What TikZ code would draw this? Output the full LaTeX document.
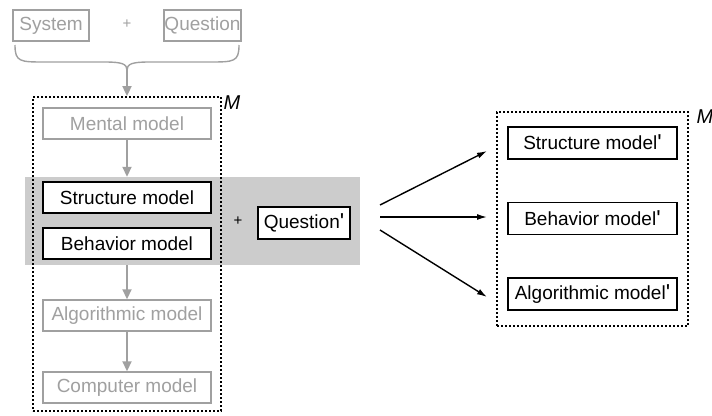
\documentclass[tikz,border=0pt]{standalone}
\usepackage{fontspec}
\setmainfont{Liberation Sans}[Ligatures=TeXOff]
\usetikzlibrary{positioning,arrows.meta}
\definecolor{faded}{RGB}{160,160,160}
\definecolor{bandgray}{RGB}{204,204,204}
\newcommand{\prm}{\raisebox{-1pt}{\fontsize{23}{23}\selectfont\char"0027}}

\begin{document}
\begin{tikzpicture}[x=1pt,y=-1pt,font=\fontsize{19}{21}\selectfont,
  model/.style={draw,line width=1.4pt,fill=white,minimum width=168pt,minimum height=31pt,inner sep=0pt},
  faint/.style={model,draw=faded,text=faded},
  frame/.style={draw,line width=1.8pt,dash pattern=on 2pt off 2pt,minimum width=188pt,inner sep=0pt},
  garr/.style={-{Triangle[length=10pt,width=9pt]},faded,line width=1.8pt},
  barr/.style={-{Latex[length=10pt,width=6pt]},line width=1.4pt}]
  \useasboundingbox (0,0) rectangle (712,415);
  % shaded part that is reused
  \node[fill=bandgray,minimum width=335pt,minimum height=88pt,inner sep=0pt](band) at (192.5,221){};
  % inputs on top
  \node[faint,minimum width=76pt](sys) at (51,25.5){System};
  \node[text=faded,font=\fontsize{15}{17}\selectfont](plus1) at (127,24){+};
  \node[faint,minimum width=77pt](qst) at (202.5,25.5){Question};
  \draw[faded,line width=1.4pt] (15,45) .. controls (15,62) and (20,62) .. (45,62) -- (105,62)
    .. controls (122,62) and (127,64) .. (127,70) .. controls (127,64) and (132,62) .. (149,62)
    -- (209,62) .. controls (234,62) and (239,62) .. (239,45);
  \coordinate (tip) at (127,70);
  % model M
  \node[frame,minimum height=314pt](mbox) at (127,254){};
  \node[font=\fontsize{20}{22}\selectfont\itshape](m1) at (232,103){M};
  \node[faint](mental) at (127,123.5){Mental model};
  \node[model](struct) at (127,197.5){Structure model};
  \node[model](behav) at (127,243.5){Behavior model};
  \node[faint](algo) at (127,315.5){Algorithmic model};
  \node[faint](comp) at (127,387.5){Computer model};
  \draw[garr](tip)--(mbox.north);
  \draw[garr](mental)--(mental.south |- band.north);
  \draw[garr](algo.north |- band.south)--(algo);
  \draw[garr](algo)--(comp);
  % new question
  \node[font=\fontsize{15}{17}\selectfont](plus2) at (238,221){+};
  \node[model,minimum width=92pt,minimum height=32pt](q2) at (304,223){Question\prm};
  % model M'
  \node[frame,minimum width=191pt,minimum height=214pt](mbox2) at (592.5,219){};
  \node[font=\fontsize{20}{22}\selectfont\itshape](m2) at (705,117){M};
  \node[model,minimum width=169pt,minimum height=32pt](struct2) at (592.5,143){Structure model\prm};
  \node[model,minimum width=169pt,minimum height=32pt](behav2) at (592.5,218.5){Behavior model\prm};
  \node[model,minimum width=169pt,minimum height=32pt](algo2) at (592.5,294){Algorithmic model\prm};
  \coordinate (f1) at (380,205); \coordinate (t1) at (487,151);
  \coordinate (f2) at (380,217); \coordinate (t2) at (487,217);
  \coordinate (f3) at (380,230); \coordinate (t3) at (487,297);
  \draw[barr](f1)--(t1);
  \draw[barr](f2)--(t2);
  \draw[barr](f3)--(t3);
\end{tikzpicture}
\end{document}
